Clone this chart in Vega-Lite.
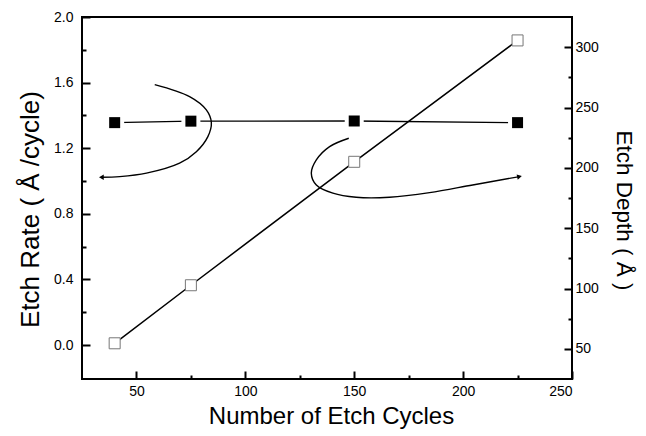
{
  "$schema": "https://vega.github.io/schema/vega-lite/v6.json",
  "width": 490,
  "height": 362,
  "autosize": {"type": "none"},
  "padding": {"left": 82, "top": 17, "right": 74, "bottom": 57},
  "background": "white",
  "config": {
    "view": {"stroke": "black", "strokeWidth": 2},
    "font": "Liberation Sans",
    "axis": {
      "domain": false, "grid": false,
      "labelFont": "Liberation Sans", "labelFontSize": 14, "labelColor": "black",
      "titleFont": "Liberation Sans", "titleFontSize": 24, "titleFontWeight": "normal", "titleColor": "black",
      "tickColor": "black", "tickWidth": 2
    }
  },
  "datasets": {
    "rate": [
      {"cycles": 40, "rate": 1.356},
      {"cycles": 75, "rate": 1.365},
      {"cycles": 150, "rate": 1.366},
      {"cycles": 225, "rate": 1.356}
    ],
    "depth": [
      {"cycles": 40, "depth": 54.6},
      {"cycles": 75, "depth": 102.7},
      {"cycles": 150, "depth": 205},
      {"cycles": 225, "depth": 305.6}
    ],
    "curves": [
      {"curve": "a", "i": 0, "cycles": 58.4, "rate": 1.588},
      {"curve": "a", "i": 1, "cycles": 74.4, "rate": 1.515},
      {"curve": "a", "i": 2, "cycles": 82.1, "rate": 1.434},
      {"curve": "a", "i": 3, "cycles": 84.4, "rate": 1.356},
      {"curve": "a", "i": 4, "cycles": 82.8, "rate": 1.271},
      {"curve": "a", "i": 5, "cycles": 77.5, "rate": 1.179},
      {"curve": "a", "i": 6, "cycles": 69.8, "rate": 1.109},
      {"curve": "a", "i": 7, "cycles": 54.6, "rate": 1.048},
      {"curve": "a", "i": 8, "cycles": 42.3, "rate": 1.027},
      {"curve": "a", "i": 9, "cycles": 33.9, "rate": 1.023},
      {"curve": "b", "i": 0, "cycles": 147.5, "rate": 1.261},
      {"curve": "b", "i": 1, "cycles": 138.7, "rate": 1.210},
      {"curve": "b", "i": 2, "cycles": 132.6, "rate": 1.129},
      {"curve": "b", "i": 3, "cycles": 130.3, "rate": 1.048},
      {"curve": "b", "i": 4, "cycles": 132.6, "rate": 0.976},
      {"curve": "b", "i": 5, "cycles": 140.2, "rate": 0.926},
      {"curve": "b", "i": 6, "cycles": 150.9, "rate": 0.901},
      {"curve": "b", "i": 7, "cycles": 166.2, "rate": 0.901},
      {"curve": "b", "i": 8, "cycles": 184.6, "rate": 0.929},
      {"curve": "b", "i": 9, "cycles": 204.4, "rate": 0.976},
      {"curve": "b", "i": 10, "cycles": 225.9, "rate": 1.027}
    ],
    "headLeft": [{"cycles": 33.9, "rate": 1.023}],
    "headRight": [{"cycles": 225.9, "rate": 1.027}]
  },
  "layer": [
    {
      "encoding": {
        "x": {
          "field": "cycles", "type": "quantitative",
          "scale": {"domain": [25, 250], "nice": false, "zero": false},
          "axis": {
            "title": "Number of Etch Cycles",
            "titleX": 249,
            "values": [50, 75, 100, 125, 150, 175, 200, 225, 250],
            "labelExpr": "datum.value % 50 == 0 ? datum.label : ''",
            "tickSize": {"condition": {"test": "datum.value % 50 == 0", "value": -8}, "value": -4},
            "labelPadding": 13,
            "titlePadding": 6
          }
        },
        "y": {
          "field": "rate", "type": "quantitative",
          "scale": {"domain": [-0.207, 2.0], "nice": false, "zero": false},
          "axis": {
            "title": "Etch Rate ( Å /cycle)",
            "titleFontSize": 26,
            "titleY": 192,
            "orient": "left",
            "values": [0, 0.2, 0.4, 0.6, 0.8, 1.0, 1.2, 1.4, 1.6, 1.8, 2.0],
            "labelExpr": "round(datum.value * 10) % 4 == 0 ? format(datum.value, '.1f') : ''",
            "tickSize": {"condition": {"test": "round(datum.value * 10) % 4 == 0", "value": -8}, "value": -4},
            "labelPadding": 17,
            "titlePadding": 10
          }
        }
      },
      "layer": [
        {"data": {"name": "rate"}, "mark": {"type": "line", "color": "black", "strokeWidth": 1.3}},
        {"data": {"name": "rate"}, "mark": {"type": "point", "shape": "square", "filled": true, "color": "white", "opacity": 1, "size": 361}},
        {"data": {"name": "rate"}, "mark": {"type": "point", "shape": "square", "filled": true, "color": "black", "opacity": 1, "size": 121}},
        {"data": {"name": "curves"}, "mark": {"type": "line", "color": "black", "strokeWidth": 1.4, "interpolate": "catmull-rom"},
         "encoding": {"order": {"field": "i", "type": "quantitative"}, "detail": {"field": "curve"}}},
        {"data": {"name": "headLeft"}, "mark": {"type": "point", "shape": "triangle-left", "filled": true, "color": "black", "opacity": 1, "size": 30}},
        {"data": {"name": "headRight"}, "mark": {"type": "point", "shape": "triangle-right", "filled": true, "color": "black", "opacity": 1, "size": 30, "angle": -12}}
      ]
    },
    {
      "data": {"name": "depth"},
      "encoding": {
        "x": {
          "field": "cycles", "type": "quantitative",
          "scale": {"domain": [25, 250], "nice": false, "zero": false},
          "axis": {
            "title": "Number of Etch Cycles",
            "titleX": 249,
            "values": [50, 75, 100, 125, 150, 175, 200, 225, 250],
            "labelExpr": "datum.value % 50 == 0 ? datum.label : ''",
            "tickSize": {"condition": {"test": "datum.value % 50 == 0", "value": -8}, "value": -4},
            "labelPadding": 13,
            "titlePadding": 6
          }
        },
        "y": {
          "field": "depth", "type": "quantitative",
          "scale": {"domain": [25, 325], "nice": false, "zero": false},
          "axis": {
            "title": "Etch Depth ( Å )",
            "titleFontSize": 22.5,
            "titleY": 193,
            "orient": "right",
            "values": [50, 75, 100, 125, 150, 175, 200, 225, 250, 275, 300],
            "labelExpr": "datum.value % 50 == 0 ? datum.label : ''",
            "tickSize": {"condition": {"test": "datum.value % 50 == 0", "value": -8}, "value": -4},
            "labelPadding": 11,
            "titlePadding": 13
          }
        }
      },
      "layer": [
        {"mark": {"type": "line", "color": "black", "strokeWidth": 1.5}},
        {"mark": {"type": "point", "shape": "square", "filled": true, "fill": "white", "stroke": "#777777", "strokeWidth": 1, "opacity": 1, "size": 121}}
      ]
    }
  ],
  "resolve": {"scale": {"y": "independent"}}
}
